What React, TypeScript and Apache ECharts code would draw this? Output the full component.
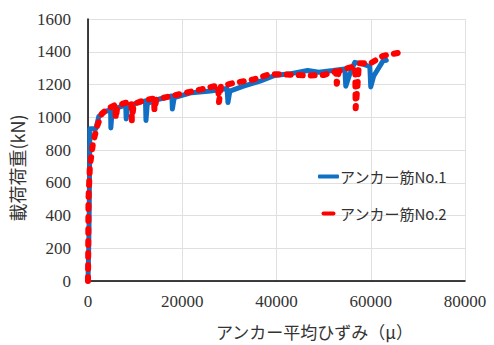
import React, { useEffect, useRef } from "react";
import * as echarts from "echarts";

const seriesNames = ["アンカー筋No.1", "アンカー筋No.2"];
const xTicks = [0, 20000, 40000, 60000, 80000];
const yTicks = [0, 200, 400, 600, 800, 1000, 1200, 1400, 1600];

// [strain (μ), load (kN)]
const anchor1: [number, number][] = [
  [0, 0], [150, 200], [250, 400], [300, 600], [350, 750], [400, 930], [1700, 932],
  [2300, 1005], [3600, 1035], [4800, 1045], [4850, 935], [5100, 1030], [6500, 1060],
  [8000, 1075], [8100, 990], [8400, 1060], [10500, 1090], [12200, 1100], [12300, 980],
  [12600, 1085], [15000, 1110], [17800, 1130], [17900, 1050], [18300, 1120],
  [22000, 1150], [26000, 1160], [29500, 1175], [29700, 1090], [30100, 1160],
  [33000, 1190], [36500, 1220], [39600, 1255], [42800, 1265], [46600, 1285],
  [49000, 1275], [52000, 1285], [54500, 1295], [54700, 1190], [55500, 1260],
  [56600, 1335], [58300, 1325], [59800, 1310], [60000, 1185], [60600, 1250],
  [62600, 1344], [63300, 1348],
];

const anchor2: [number, number][] = [
  [0, 0], [50, 200], [100, 500], [400, 700], [1100, 850], [2000, 950], [2900, 1020],
  [4000, 1050], [5800, 1075], [5900, 992], [6200, 1060], [7500, 1085], [9200, 1095],
  [9300, 982], [9700, 1080], [11500, 1100], [14000, 1115], [14100, 1042], [14500, 1110],
  [17000, 1125], [20000, 1145], [24000, 1170], [27600, 1195], [27800, 1093],
  [28200, 1190], [31000, 1210], [35000, 1230], [38600, 1264], [42800, 1260],
  [46600, 1255], [50000, 1258], [52600, 1280], [52800, 1204], [53200, 1280],
  [55000, 1300], [56700, 1310], [56800, 1055], [57200, 1200], [57500, 1330],
  [60000, 1330], [62600, 1375], [64500, 1385], [66100, 1395],
];

export default function App() {
  const ref = useRef<HTMLDivElement>(null);
  useEffect(() => {
    if (!ref.current) return;
    const chart = echarts.init(ref.current, null, { renderer: "svg" });
    const serif = "'Liberation Serif', serif";
    const sans = "Noto Sans CJK JP";
    const blue = "#1170c4";
    const red = "#ff0000";
    chart.setOption({
      animation: false,
      backgroundColor: "#ffffff",
      grid: { left: 88, right: 29, top: 19, bottom: 61 },
      legend: {
        orient: "vertical",
        left: 318,
        top: 169,
        padding: 0,
        itemGap: 22,
        itemWidth: 21,
        itemHeight: 4,
        itemStyle: { borderWidth: 0 },
        textStyle: { fontFamily: sans, fontSize: 15, color: "#333", padding: [0, 0, 0, -4] },
        data: [
          {
            name: seriesNames[0],
            icon: "roundRect",
            itemStyle: { color: blue, borderWidth: 0 },
          },
          {
            name: seriesNames[1],
            icon: "path://M2,0 H12 A2,2 0 0 1 12,4 H2 A2,2 0 0 1 2,0 Z",
            itemStyle: { color: red, borderWidth: 0 },
          },
        ],
      },
      xAxis: {
        type: "value",
        min: xTicks[0],
        max: xTicks[xTicks.length - 1],
        interval: 20000,
        name: "アンカー平均ひずみ（μ）",
        nameLocation: "middle",
        nameGap: 42,
        nameTextStyle: { fontFamily: sans, fontSize: 17, color: "#333", padding: [0, 0, 0, 76] },
        axisLine: { lineStyle: { color: "#000", width: 1.5 } },
        axisTick: { show: false },
        axisLabel: {
          fontFamily: serif,
          fontSize: 17,
          color: "#333",
          margin: 12,
          formatter: (v: number) => String(v),
        },
        splitLine: { show: true, lineStyle: { color: "#e0e0e0", width: 1 } },
      },
      yAxis: {
        type: "value",
        min: yTicks[0],
        max: yTicks[yTicks.length - 1],
        interval: 200,
        name: "載荷荷重(kN)",
        nameLocation: "middle",
        nameGap: 50,
        nameTextStyle: { fontFamily: sans, fontSize: 18, color: "#333", padding: [0, 36, 0, 0] },
        axisLine: { show: true, lineStyle: { color: "#000", width: 1.5 } },
        axisTick: { show: false },
        axisLabel: {
          fontFamily: serif,
          fontSize: 17,
          color: "#333",
          margin: 17,
          formatter: (v: number) => String(v),
        },
        splitLine: { show: true, lineStyle: { color: "#e0e0e0", width: 1 } },
      },
      series: [
        {
          name: seriesNames[0],
          type: "line",
          data: anchor1,
          symbol: "none",
          color: blue,
          lineStyle: { width: 5, color: blue, cap: "round", join: "round" },
        },
        {
          name: seriesNames[1],
          type: "line",
          data: anchor2,
          symbol: "none",
          color: red,
          lineStyle: { width: 6, color: red, type: [4, 8], cap: "round", join: "round" },
        },
      ],
    });
    return () => chart.dispose();
  }, []);
  return (
    <div
      ref={ref}
      style={{ position: "fixed", left: 0, top: 0, width: 494, height: 345 }}
    />
  );
}
